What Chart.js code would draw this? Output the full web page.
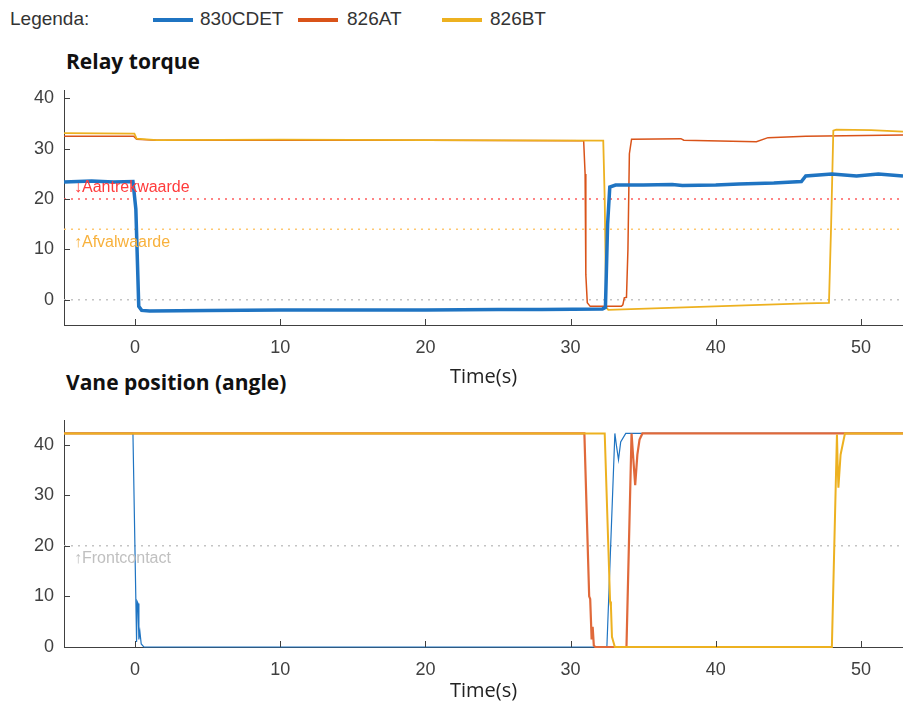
<!DOCTYPE html>
<html>
<head>
<meta charset="utf-8">
<script src="https://cdn.jsdelivr.net/npm/chart.js@4.4.0/dist/chart.umd.min.js"></script>
<style>
  body { margin: 0; background: #fff; width: 903px; height: 709px; overflow: hidden; position: relative; font-family: "Liberation Sans", Arial, sans-serif; }
  .legend span { position: absolute; top: 8px; line-height: 22px; font-size: 19px; color: #333; }
  .legend i { position: absolute; top: 18px; width: 40px; height: 4px; }
  .title { position: absolute; left: 66px; font-family: "Open Sans", sans-serif; font-weight: 700; font-size: 21px; color: #111; }
  canvas { position: absolute; left: 0; }
</style>
</head>
<body>
<div class="legend">
  <span style="left:10px">Legenda:</span>
  <i style="left:153px;background:#1f74c2"></i><span style="left:200px">830CDET</span>
  <i style="left:298px;background:#d95319"></i><span style="left:347px">826AT</span>
  <i style="left:442px;background:#edb120"></i><span style="left:490px">826BT</span>
</div>
<div class="title" style="top:47px">Relay torque</div>
<div class="title" style="top:368px">Vane position (angle)</div>
<canvas id="torque" width="903" height="320" style="top:70px"></canvas>
<canvas id="vane" width="903" height="304" style="top:400px"></canvas>
<script>
  const X_MIN = -4.9, X_MAX = 52.9;
  const xTicks = [0, 10, 20, 30, 40, 50];
  const yTicks = [0, 10, 20, 30, 40];

  // relay torque
  const torqueTime830 = [-4.9, -3, -1.5, -0.15, 0.05, 0.25, 0.45, 1, 5, 10, 15, 20, 25, 28, 32.2, 32.4, 32.55, 32.7, 33.1, 35, 37, 37.7, 40, 41.6, 44, 45.9, 46.2, 48, 49.7, 51.2, 52.9];
  const torque830 = [23.4, 23.6, 23.4, 23.5, 18, -1.3, -2.1, -2.2, -2.1, -2.0, -2.0, -2.0, -1.9, -1.9, -1.8, -1.5, 15, 22.4, 22.8, 22.8, 22.9, 22.7, 22.8, 23.0, 23.2, 23.5, 24.6, 25.0, 24.6, 25.0, 24.6];
  const torqueTimeA = [-4.9, -0.1, 0.1, 1.5, 10, 20, 30.9, 31.0, 31.05, 31.15, 31.35, 33.5, 33.6, 33.7, 33.85, 33.95, 34.05, 34.2, 37.6, 37.8, 42.8, 43.6, 46.2, 52.9];
  const torqueA = [32.5, 32.5, 31.9, 31.7, 31.7, 31.7, 31.6, 25, 5, -0.6, -1.3, -1.3, -1.0, 0.4, 0.5, 10, 29, 31.9, 32.0, 31.7, 31.4, 32.2, 32.5, 32.7];
  const torqueTimeB = [-4.9, -0.05, 0.1, 1.5, 10, 20, 32.25, 32.35, 32.45, 32.6, 46.2, 47.8, 47.95, 48.1, 48.3, 50.7, 52.9];
  const torqueB = [33.1, 33.0, 32.0, 31.7, 31.8, 31.7, 31.6, 20, -1.5, -2.0, -0.7, -0.6, 15, 33.6, 33.8, 33.7, 33.4];

  // vane position
  const vaneTime830 = [-4.9, -0.15, 0.1, 0.14, 0.2, 0.26, 0.33, 0.42, 0.6, 32.5, 33.05, 33.15, 33.3, 33.45, 33.8, 52.9];
  const vane830 = [42.2, 42.2, 1, 9, 8.6, 1.5, 3, 0.6, 0, 0, 42.2, 40, 37, 40.5, 42.2, 42.2];
  const vaneTimeA = [-4.9, 30.95, 31.28, 31.35, 31.45, 31.52, 31.6, 31.7, 33.85, 34.2, 34.3, 34.45, 34.6, 34.75, 34.95, 52.9];
  const vaneA = [42.2, 42.2, 10, 9.5, 1.5, 4, 0.3, 0, 0, 42.2, 38, 32, 38, 41, 42.2, 42.2];
  const vaneTimeB = [-4.9, 32.35, 32.72, 32.78, 32.85, 32.95, 33.05, 48.0, 48.35, 48.4, 48.45, 48.6, 48.9, 52.9];
  const vaneB = [42.2, 42.2, 9, 8, 2, 1, 0, 0, 42, 36, 31.5, 38, 42.2, 42.2];

  const torqueRefs = [
    { value: 20, color: '#ff5c5c', text: '\u2193Aantrekwaarde', textColor: '#ff3b3b', above: true },
    { value: 14, color: '#ffc870', text: '\u2191Afvalwaarde', textColor: '#f8b13c', above: false },
    { value: 0, color: '#c4c4c4' }
  ];
  const vaneRefs = [
    { value: 20, color: '#c4c4c4', text: '\u2191Frontcontact', textColor: '#c0c0c0', above: false }
  ];

  const BLUE = '#1f74c2', ORANGE = '#d95319', YELLOW = '#edb120', AXIS = '#404040';

  function zip(xs, ys) {
    return xs.map((x, i) => ({ x: x, y: ys[i] }));
  }

  function series(xs, ys, color, width) {
    return { data: zip(xs, ys), borderColor: color, borderWidth: width, pointRadius: 0, tension: 0, clip: false };
  }

  function refLines(refs) {
    return refs.map(r => ({
      data: [{ x: X_MIN, y: r.value }, { x: X_MAX, y: r.value }],
      borderColor: r.color, borderWidth: 1.5, borderDash: [2, 5], pointRadius: 0
    }));
  }

  const axisExtras = {
    id: 'axisExtras',
    afterDraw(chart, args, opts) {
      const ctx = chart.ctx;
      const xs = chart.scales.x, ys = chart.scales.y;
      ctx.save();
      ctx.strokeStyle = AXIS;
      ctx.lineWidth = 1;
      xs.ticks.forEach(t => {
        const px = Math.round(xs.getPixelForValue(t.value)) + 0.5;
        ctx.beginPath(); ctx.moveTo(px, ys.bottom); ctx.lineTo(px, ys.bottom - 6); ctx.stroke();
      });
      ys.ticks.forEach(t => {
        const py = Math.round(ys.getPixelForValue(t.value)) + 0.5;
        ctx.beginPath(); ctx.moveTo(xs.left, py); ctx.lineTo(xs.left + 6, py); ctx.stroke();
      });
      ctx.font = '16px "Liberation Sans", Arial, sans-serif';
      ctx.textBaseline = 'middle';
      (opts.refs || []).filter(r => r.text).forEach(r => {
        ctx.fillStyle = r.textColor;
        ctx.fillText(r.text, xs.left + 10, ys.getPixelForValue(r.value) + (r.above ? -11 : 13));
      });
      ctx.restore();
    }
  };

  function scales(yMin, yMax, xHeight, titlePad) {
    const tickFont = { family: '"Liberation Sans", Arial, sans-serif', size: 18 };
    return {
      x: {
        type: 'linear', min: X_MIN, max: X_MAX,
        grid: { display: false, drawTicks: false },
        border: { display: true, color: AXIS, width: 1 },
        ticks: { autoSkip: false, padding: 12, color: AXIS, font: tickFont },
        afterBuildTicks: s => { s.ticks = xTicks.map(v => ({ value: v })); },
        title: { display: true, text: 'Time(s)', color: '#222', padding: { top: 0, bottom: titlePad },
          font: { family: '"Open Sans", sans-serif', size: 20 } },
        afterFit: s => { s.height = xHeight; }
      },
      y: {
        type: 'linear', min: yMin, max: yMax,
        grid: { display: false, drawTicks: false },
        border: { display: true, color: AXIS, width: 1 },
        ticks: { autoSkip: false, padding: 10, color: AXIS, font: tickFont },
        afterBuildTicks: s => { s.ticks = yTicks.map(v => ({ value: v })); },
        afterFit: s => { s.width = 64; }
      }
    };
  }

  function makeChart(id, datasets, refs, yMin, yMax, padTop, xHeight, titlePad) {
    new Chart(document.getElementById(id), {
      type: 'line',
      data: { datasets: datasets.concat(refLines(refs)) },
      options: {
        responsive: false,
        animation: false,
        layout: { padding: { top: padTop, left: 0, right: 0, bottom: 0 } },
        plugins: { legend: { display: false }, tooltip: { enabled: false }, axisExtras: { refs: refs } },
        scales: scales(yMin, yMax, xHeight, titlePad)
      },
      plugins: [axisExtras]
    });
  }

  makeChart('torque', [
    series(torqueTime830, torque830, BLUE, 3.5),
    series(torqueTimeB, torqueB, YELLOW, 1.8),
    series(torqueTimeA, torqueA, ORANGE, 1.5)
  ], torqueRefs, -5, 41.5, 11, 65, 1);

  makeChart('vane', [
    series(vaneTimeB, vaneB, YELLOW, 2),
    series(vaneTimeA, vaneA, '#e0693a', 2.2),
    series(vaneTime830, vane830, BLUE, 1.2)
  ], vaneRefs, 0, 44.7, 2, 57, 1);
</script>
</body>
</html>
